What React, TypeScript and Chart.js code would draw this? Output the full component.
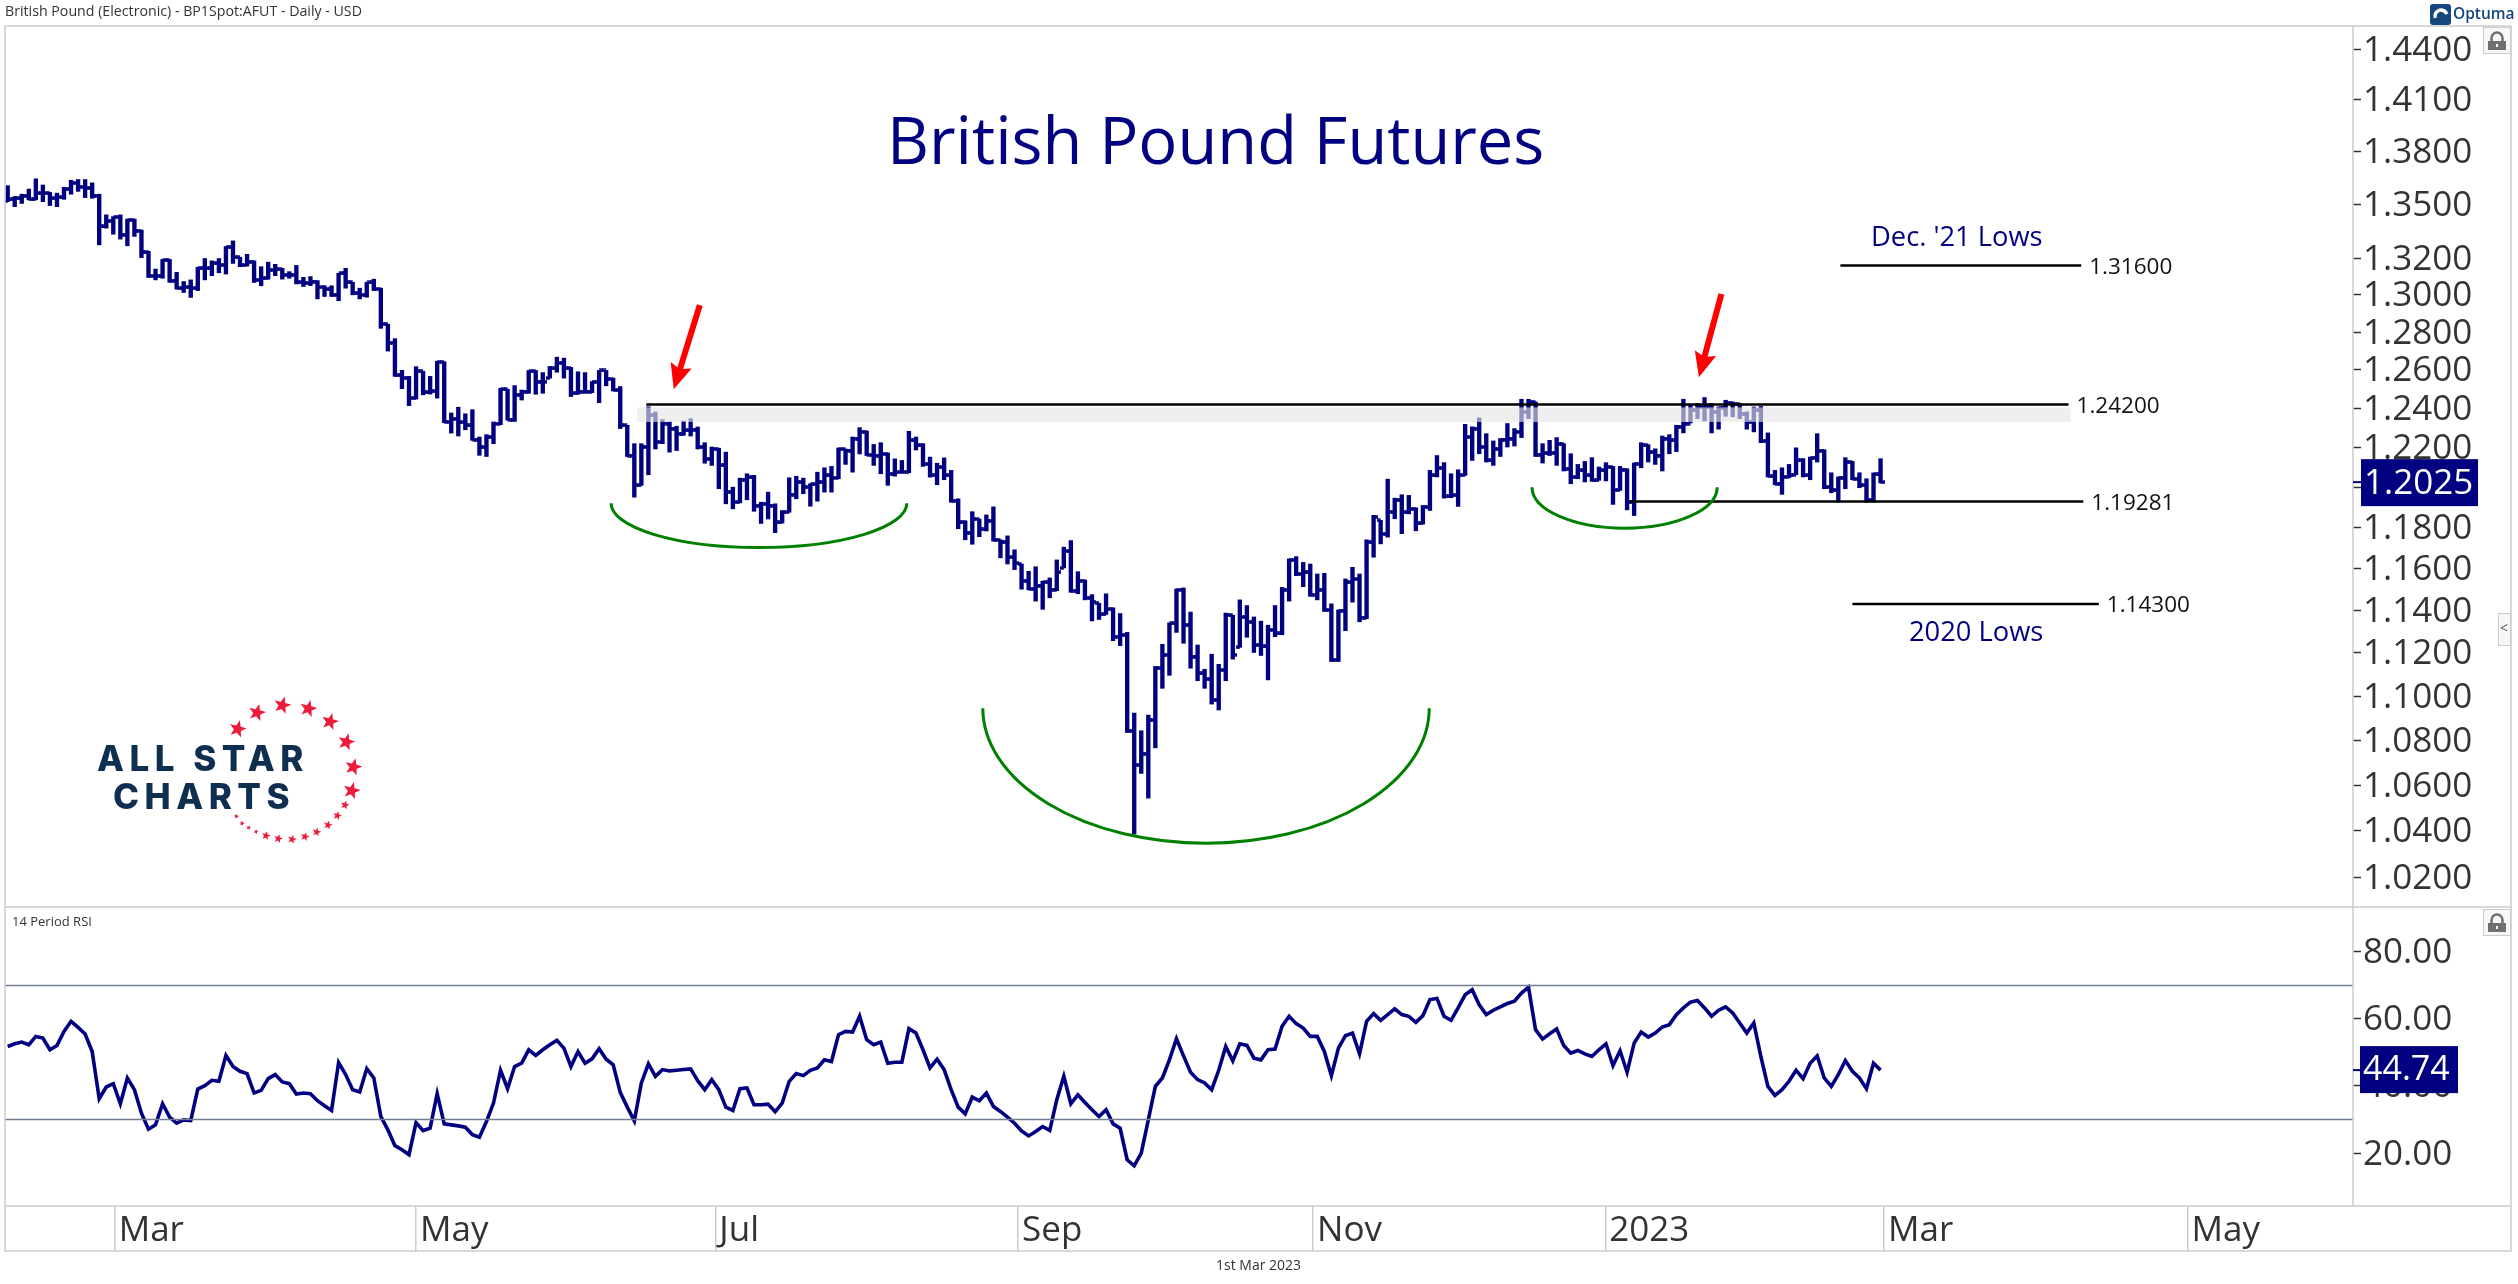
import React, { useEffect, useRef } from "react";
import Chart from "chart.js/auto";

// daily bars, oldest first
const highs = [
  1.3604,1.3543,1.3556,1.3585,1.3643,1.3608,1.3566,1.3562,1.3595,1.3635,
  1.3639,1.3639,1.362,1.3556,1.344,1.343,1.344,1.3416,1.3416,1.3355,
  1.3238,1.314,1.3193,1.3193,1.3122,1.3072,1.3081,1.315,1.3198,1.3185,
  1.3198,1.3264,1.3295,1.3205,1.3221,1.3185,1.3153,1.3178,1.3166,1.3144,
  1.3126,1.316,1.3095,1.3099,1.3077,1.3049,1.3049,1.3117,1.3144,1.3068,
  1.3036,1.3068,1.3085,1.3036,1.2842,1.2765,1.2598,1.2566,1.2617,1.2593,
  1.2566,1.2646,1.2643,1.2376,1.2406,1.2372,1.2393,1.2253,1.2265,1.233,
  1.2504,1.2499,1.2518,1.2495,1.2597,1.2597,1.2586,1.2618,1.2667,1.2662,
  1.2613,1.259,1.2586,1.2539,1.2597,1.2597,1.2557,1.2513,1.2313,1.2219,
  1.2219,1.2408,1.2381,1.2342,1.233,1.2308,1.2335,1.2347,1.2304,1.2224,
  1.2202,1.2196,1.2176,1.2,1.2045,1.2067,1.2059,1.1925,1.1975,1.1917,
  1.1883,1.2047,1.2054,1.2045,1.2017,1.2075,1.2097,1.2104,1.2197,1.2192,
  1.2253,1.2301,1.2284,1.2215,1.2224,1.2172,1.2142,1.2134,1.2282,1.2253,
  1.2219,1.2151,1.212,1.2147,1.2084,1.1942,1.1833,1.1878,1.1842,1.1862,
  1.1902,1.174,1.1759,1.1691,1.1622,1.1587,1.1609,1.1539,1.1555,1.1642,
  1.1704,1.1736,1.1585,1.1545,1.1475,1.1434,1.1479,1.1412,1.1385,1.1296,
  1.0923,1.0843,1.0914,1.1137,1.124,1.1341,1.1502,1.1507,1.1392,1.1237,
  1.1124,1.1194,1.1147,1.1387,1.1377,1.145,1.1423,1.1369,1.1349,1.133,
  1.1423,1.151,1.1647,1.1658,1.163,1.1622,1.1574,1.1577,1.1431,1.1402,
  1.155,1.1606,1.1574,1.174,1.186,1.1835,1.204,1.1945,1.1962,1.1959,
  1.1897,1.1909,1.2084,1.2159,1.2123,1.2067,1.2087,1.2318,1.2305,1.2351,
  1.227,1.2233,1.2245,1.2322,1.2296,1.2447,1.2447,1.2433,1.2219,1.2236,
  1.225,1.2219,1.2168,1.2114,1.2129,1.2148,1.2101,1.2123,1.2104,1.2104,
  1.2092,1.2121,1.2224,1.2214,1.2193,1.2258,1.2265,1.2313,1.2447,1.2416,
  1.2425,1.2456,1.2425,1.2407,1.2442,1.2433,1.2425,1.2382,1.2407,1.241,
  1.2274,1.2084,1.2097,1.2114,1.2198,1.2143,1.2151,1.227,1.2188,1.2072,
  1.2051,1.2148,1.2129,1.2072,1.2042,1.2071,1.2143,
];

const lows = [
  1.3514,1.3486,1.3504,1.3524,1.3524,1.3514,1.3492,1.3486,1.3527,1.3556,
  1.3572,1.3537,1.3533,1.3273,1.3366,1.3332,1.3305,1.3268,1.332,1.3203,
  1.3094,1.3081,1.309,1.3068,1.3031,1.3013,1.2986,1.3023,1.3081,1.3104,
  1.312,1.3113,1.3171,1.3153,1.3157,1.3067,1.3049,1.3085,1.3104,1.3085,
  1.309,1.3059,1.3045,1.305,1.2978,1.2991,1.2991,1.2968,1.3036,1.3,
  1.2978,1.2987,1.3023,1.282,1.2699,1.2566,1.2502,1.2414,1.2448,1.247,
  1.2474,1.2453,1.2326,1.2273,1.2258,1.229,1.2236,1.216,1.2154,1.2219,
  1.2316,1.2339,1.2333,1.2443,1.2478,1.2473,1.2478,1.2557,1.2588,1.2557,
  1.2461,1.2473,1.2481,1.2481,1.2429,1.2517,1.249,1.2296,1.2154,1.195,
  1.2009,1.2062,1.2192,1.2219,1.2176,1.2184,1.2262,1.2258,1.2192,1.212,
  1.2109,1.1992,1.1917,1.1892,1.1922,1.1937,1.188,1.182,1.1842,1.1775,
  1.1822,1.1875,1.1942,1.1967,1.1905,1.193,1.1975,1.1975,1.2042,1.2114,
  1.2075,1.2167,1.2159,1.2109,1.2067,1.2009,1.2055,1.2072,1.2072,1.2187,
  1.2104,1.205,1.2012,1.2037,1.1925,1.1794,1.174,1.1718,1.1755,1.1783,
  1.1733,1.1652,1.1622,1.1595,1.1501,1.1498,1.1444,1.1405,1.146,1.1494,
  1.1603,1.1486,1.1479,1.145,1.135,1.1357,1.1381,1.1257,1.1234,1.0835,
  1.0386,1.0652,1.0543,1.0766,1.1036,1.1096,1.1296,1.1245,1.1129,1.1071,
  1.1036,1.0964,1.0937,1.1071,1.1171,1.1226,1.1273,1.1202,1.1188,1.1075,
  1.1276,1.1285,1.1444,1.1566,1.1513,1.1467,1.145,1.1395,1.116,1.116,
  1.1304,1.1439,1.1346,1.1361,1.1655,1.172,1.1753,1.1843,1.177,1.1867,
  1.1784,1.1817,1.1884,1.2051,1.1945,1.1947,1.1904,1.2059,1.2134,1.2168,
  1.2126,1.2109,1.2154,1.2202,1.2207,1.225,1.2347,1.2154,1.2121,1.2159,
  1.2109,1.2081,1.2017,1.2042,1.2026,1.2029,1.2034,1.2031,1.1914,1.1984,
  1.1887,1.1859,1.2097,1.2126,1.2114,1.2081,1.2168,1.2179,1.2274,1.2325,
  1.2347,1.2335,1.2274,1.2293,1.2359,1.2356,1.2347,1.2293,1.2279,1.2224,
  1.2051,1.2012,1.1964,1.2047,1.2062,1.2051,1.2037,1.2126,1.1992,1.1972,
  1.1925,1.1992,1.2037,1.1997,1.1925,1.1925,1.2021,
];

const closes = [
  1.3527,1.3533,1.3547,1.3527,1.3562,1.3562,1.3533,1.3539,1.3585,1.362,
  1.3597,1.3591,1.3547,1.3375,1.3406,1.3427,1.3329,1.3412,1.3351,1.3233,
  1.3103,1.3103,1.3189,1.3077,1.3036,1.3041,1.3036,1.3144,1.3144,1.3171,
  1.3162,1.326,1.3205,1.3162,1.318,1.3081,1.309,1.3135,1.3139,1.3108,
  1.3108,1.3067,1.3063,1.3072,1.3041,1.3031,1.3,1.3117,1.3068,1.3009,
  1.3,1.3067,1.3031,1.2842,1.2743,1.2572,1.2558,1.2453,1.2593,1.2483,
  1.2488,1.2641,1.233,1.2347,1.233,1.2312,1.2239,1.2201,1.2253,1.2321,
  1.2499,1.2342,1.2469,1.2487,1.2592,1.2539,1.2539,1.2609,1.2636,1.2609,
  1.2478,1.2487,1.2487,1.2539,1.2597,1.2552,1.2495,1.2313,1.2159,1.2009,
  1.2202,1.2364,1.2227,1.2322,1.2296,1.227,1.2287,1.2291,1.2202,1.2142,
  1.2192,1.2109,1.1975,1.1925,1.2037,1.205,1.1908,1.1917,1.1908,1.1825,
  1.1875,1.1963,1.2025,1.2,1.2014,1.2025,1.2059,1.2047,1.2192,1.2184,
  1.2245,1.2279,1.2162,1.2159,1.2167,1.2067,1.2075,1.2075,1.2236,1.221,
  1.2117,1.2059,1.21,1.2059,1.1933,1.1825,1.1775,1.1842,1.1791,1.1833,
  1.174,1.1728,1.1655,1.1625,1.1542,1.1502,1.1518,1.1534,1.1499,1.1582,
  1.1684,1.1494,1.1542,1.146,1.1439,1.1381,1.1407,1.1276,1.1284,1.0843,
  1.0689,1.074,1.0891,1.1129,1.1191,1.1338,1.1498,1.133,1.1183,1.1105,
  1.1078,1.0983,1.1121,1.1377,1.1191,1.1369,1.1346,1.1237,1.123,1.1307,
  1.1291,1.1498,1.1642,1.1574,1.1582,1.1474,1.1499,1.1402,1.1167,1.1399,
  1.1534,1.155,1.1366,1.1728,1.1852,1.1769,1.1877,1.1935,1.1875,1.1892,
  1.182,1.19,1.2059,1.2097,1.1954,1.1959,1.2059,1.2253,1.2296,1.2202,
  1.2134,1.2193,1.224,1.2245,1.2279,1.2382,1.2433,1.2164,1.2171,1.2171,
  1.2219,1.2092,1.2051,1.2084,1.2059,1.2034,1.2084,1.2101,1.1987,1.2087,
  1.1925,1.2118,1.2211,1.2176,1.2159,1.2245,1.2236,1.2305,1.2322,1.239,
  1.2407,1.2407,1.2382,1.2404,1.2428,1.2421,1.2373,1.233,1.239,1.2233,
  1.2054,1.2017,1.2051,1.2059,1.2134,1.2059,1.2148,1.2184,1.2001,1.1984,
  1.2047,1.2126,1.2042,1.2009,1.1937,1.2064,1.2025,
];

const opens = [
  1.352,1.3527,1.3533,1.3547,1.3527,1.3562,1.3562,1.3533,1.3539,1.3585,
  1.362,1.3597,1.3591,1.3547,1.3375,1.3406,1.3427,1.3329,1.3412,1.3351,
  1.3233,1.3103,1.3103,1.3189,1.3077,1.3036,1.3041,1.3036,1.3144,1.3144,
  1.3171,1.3162,1.326,1.3205,1.3162,1.318,1.3081,1.309,1.3135,1.3139,
  1.3108,1.3108,1.3067,1.3063,1.3072,1.3041,1.3031,1.3,1.3117,1.3068,
  1.3009,1.3,1.3067,1.3031,1.2842,1.2743,1.2572,1.2558,1.2453,1.2593,
  1.2483,1.2488,1.2641,1.233,1.2347,1.233,1.2312,1.2239,1.2201,1.2253,
  1.2321,1.2499,1.2342,1.2469,1.2487,1.2592,1.2539,1.2557,1.2609,1.2636,
  1.2609,1.2478,1.2487,1.2487,1.2539,1.2597,1.2552,1.2495,1.2313,1.2159,
  1.2009,1.2202,1.2364,1.2227,1.2322,1.2296,1.227,1.2287,1.2291,1.2202,
  1.2142,1.2192,1.2109,1.1975,1.1925,1.2037,1.205,1.1908,1.1917,1.1908,
  1.1825,1.1875,1.1963,1.2025,1.2,1.2014,1.2025,1.2059,1.2047,1.2192,
  1.2184,1.2245,1.2279,1.2162,1.2159,1.2167,1.2067,1.2075,1.2075,1.2236,
  1.221,1.2117,1.2059,1.21,1.2059,1.1933,1.1825,1.1775,1.1842,1.1791,
  1.1833,1.174,1.1728,1.1655,1.1622,1.1542,1.1502,1.1518,1.1534,1.1499,
  1.1603,1.1684,1.1494,1.1542,1.146,1.1434,1.1381,1.1407,1.1276,1.1284,
  1.0843,1.0689,1.074,1.0891,1.1129,1.1191,1.1338,1.1498,1.133,1.1183,
  1.1105,1.1078,1.0983,1.1121,1.1377,1.1226,1.1369,1.1346,1.1237,1.123,
  1.1307,1.1291,1.1498,1.1642,1.1574,1.1582,1.1474,1.1499,1.1402,1.1167,
  1.1399,1.1534,1.155,1.1366,1.1728,1.1835,1.1769,1.1877,1.1935,1.1875,
  1.1892,1.182,1.19,1.2059,1.2097,1.1954,1.1959,1.2059,1.2253,1.2296,
  1.2202,1.2134,1.2193,1.224,1.2245,1.2279,1.2382,1.2433,1.2164,1.2171,
  1.2171,1.2219,1.2092,1.2051,1.2084,1.2059,1.2034,1.2084,1.2101,1.1987,
  1.2087,1.1925,1.2118,1.2211,1.2176,1.2159,1.2245,1.2236,1.2305,1.2322,
  1.239,1.2407,1.2407,1.2382,1.2404,1.2428,1.2421,1.2373,1.233,1.239,
  1.2233,1.2054,1.2017,1.2051,1.2062,1.2134,1.2059,1.2148,1.2184,1.2001,
  1.1984,1.2047,1.2126,1.2042,1.2009,1.1937,1.2064,
];

const rsi = [
  51.8,52.6,53.1,52.3,54.8,54.3,50.8,52.1,56.3,59.3,
  57.5,55.5,50.3,36.2,39.7,40.7,34.7,42.4,38.9,31.9,
  27.1,28.4,34.7,30.7,28.9,29.9,29.7,39.1,40.1,41.7,
  41.4,49.1,45.8,44.4,43.7,37.9,38.7,42.2,43.4,41.2,
  40.7,37.6,37.9,37.7,35.6,34.1,32.7,47.0,43.4,38.9,
  38.2,45.2,42.4,30.9,26.9,22.2,21.0,19.5,29.1,26.7,
  27.4,37.7,28.7,28.4,28.1,27.7,25.5,24.7,29.4,34.9,
  44.7,39.2,45.8,46.8,50.8,49.1,50.8,52.3,53.6,51.3,
  45.8,50.3,46.8,48.1,51.1,48.0,46.3,38.1,33.7,29.6,
  40.9,46.6,42.9,44.9,44.5,44.7,44.9,45.1,41.6,38.9,
  41.9,38.9,33.7,32.7,39.2,39.4,34.4,34.4,34.6,32.3,
  34.9,41.4,43.7,43.1,44.7,45.4,47.8,47.3,55.3,56.3,
  56.1,60.8,53.8,52.3,53.1,46.8,47.1,47.1,57.1,55.8,
  50.8,45.4,48.0,44.9,38.9,33.7,31.7,36.7,35.6,37.9,
  33.9,32.4,30.7,28.9,26.6,25.1,26.4,27.9,26.7,35.9,
  42.9,34.7,37.4,35.1,32.9,30.9,32.9,28.7,27.4,18.0,
  16.2,20.0,29.9,39.9,42.4,47.8,54.1,49.0,44.1,41.9,
  40.9,38.9,44.7,51.8,47.5,52.6,52.1,48.3,47.8,50.8,
  51.0,57.8,60.8,58.6,57.3,54.8,54.8,50.3,43.1,51.3,
  55.0,55.8,49.6,59.3,61.6,59.6,61.3,63.0,61.3,60.8,
  59.0,61.0,65.8,66.1,60.8,59.6,63.3,67.2,68.7,64.2,
  61.3,62.6,63.6,64.6,65.3,67.7,69.5,56.8,54.0,55.6,
  57.0,52.1,49.8,50.6,49.6,48.8,50.8,52.6,46.1,50.5,
  44.1,52.8,56.1,54.6,55.8,57.6,58.3,61.3,63.3,65.0,
  65.5,63.3,60.8,62.6,63.6,61.8,58.8,55.8,58.8,48.8,
  39.9,37.2,38.9,41.4,44.7,42.2,46.8,49.0,42.4,39.9,
  43.4,47.6,44.4,42.4,39.2,46.8,44.74,
];

// axis ticks
const priceTicks = [
  1.44,1.41,1.38,1.35,1.32,1.3,1.28,1.26,1.24,1.22,1.2,1.18,1.16,1.14,1.12,1.1,1.08,1.06,1.04,1.02,
];
const rsiTicks = [80, 60, 40, 20];
const monthLabels = ["Mar", "May", "Jul", "Sep", "Nov", "2023", "Mar", "May"];
const monthTickBars = [15.2, 58.0, 100.5, 143.5, 185.4, 226.9, 266.5, 309.6];

// horizontal levels drawn on the price panel: price, first bar, last bar
const levels = [
  { price: 1.316, from: 260.3, to: 294.5, label: "1.31600" },
  { price: 1.242, from: 90.7, to: 292.7, label: "1.24200" },
  { price: 1.19281, from: 230.3, to: 294.8, label: "1.19281" },
  { price: 1.143, from: 262, to: 297, label: "1.14300" },
];
const rsiLevels = [70, 30];

// saucer curves: rim bars, rim price, bottom price
const saucers = [
  { from: 85.7, to: 127.7, rim: 1.192, bottom: 1.1702 },
  { from: 138.5, to: 201.9, rim: 1.0945, bottom: 1.0347 },
  { from: 216.5, to: 242.8, rim: 1.2, bottom: 1.1797 },
];
const arrows = [
  { fromBar: 98.3, fromPrice: 1.2944, toBar: 94.6, toPrice: 1.2499 },
  { fromBar: 243.4, fromPrice: 1.3004, toBar: 240.2, toPrice: 1.2562 },
];

const NAVY = "#000080";
const FONT = '"Open Sans"';

const logoStars = [
  [563, 177, 27], [621, 128, 27], [697, 106, 27], [775, 116, 27], [840, 155, 27], [889, 216, 27],
  [910, 291, 27], [905, 362, 27], [885, 405, 14], [862, 437, 14], [834, 465, 14], [800, 486, 14],
  [765, 500, 14], [726, 508, 14], [685, 506, 14], [648, 497, 14], [618, 485, 8], [596, 473, 8],
  [576, 460, 8], [559, 439, 8],
];

function star(ctx: CanvasRenderingContext2D, x: number, y: number, r: number) {
  ctx.beginPath();
  for (let k = 0; k < 10; k++) {
    const a = -Math.PI / 2 + 0.25 + (k * Math.PI) / 5;
    const d = k % 2 ? r * 0.42 : r;
    ctx.lineTo(x + Math.cos(a) * d, y + Math.sin(a) * d);
  }
  ctx.closePath();
  ctx.fill();
}

function text(ctx: CanvasRenderingContext2D, s: string, x: number, y: number, font: string, color: string) {
  ctx.font = font;
  ctx.fillStyle = color;
  ctx.textAlign = "left";
  ctx.textBaseline = "middle";
  ctx.fillText(s, x, y);
}

function lockIcon(ctx: CanvasRenderingContext2D, x: number, y: number) {
  ctx.fillStyle = "#f7f7f7";
  ctx.strokeStyle = "#cccccc";
  ctx.lineWidth = 1;
  ctx.fillRect(x, y, 28, 27);
  ctx.strokeRect(x + 0.5, y + 0.5, 27, 26);
  ctx.strokeStyle = "#707070";
  ctx.lineWidth = 2.5;
  ctx.beginPath();
  ctx.arc(x + 14, y + 11, 5.5, Math.PI, 0);
  ctx.lineTo(x + 19.5, y + 15);
  ctx.moveTo(x + 8.5, y + 11);
  ctx.lineTo(x + 8.5, y + 15);
  ctx.stroke();
  ctx.fillStyle = "#707070";
  ctx.fillRect(x + 5, y + 14, 18, 9);
  ctx.fillStyle = "#f7f7f7";
  ctx.fillRect(x + 13, y + 17, 2, 3);
}

const overlays = {
  id: "overlays",
  // this one sits above the bars, the grey zone washes them out
  afterDatasetsDraw(chart: any) {
    const { ctx } = chart;
    const x = chart.scales.x;
    const y = chart.scales.y;
    ctx.save();
    ctx.fillStyle = "rgba(230,230,230,0.63)";
    const bandTop = y.getPixelForValue(1.2405);
    ctx.fillRect(x.getPixelForValue(89.4), bandTop, x.getPixelForValue(293) - x.getPixelForValue(89.4), y.getPixelForValue(1.233) - bandTop);

    ctx.strokeStyle = "#008000";
    ctx.lineWidth = 3;
    saucers.forEach((s) => {
      const x0 = x.getPixelForValue(s.from);
      const x1 = x.getPixelForValue(s.to);
      const rim = y.getPixelForValue(s.rim);
      ctx.beginPath();
      ctx.ellipse((x0 + x1) / 2, rim, (x1 - x0) / 2, y.getPixelForValue(s.bottom) - rim, 0, 0, Math.PI);
      ctx.stroke();
    });

    ctx.fillStyle = "#ff0000";
    arrows.forEach((a) => {
      const x0 = x.getPixelForValue(a.fromBar);
      const y0 = y.getPixelForValue(a.fromPrice);
      const x1 = x.getPixelForValue(a.toBar);
      const y1 = y.getPixelForValue(a.toPrice);
      const len = Math.hypot(x1 - x0, y1 - y0);
      const ux = (x1 - x0) / len;
      const uy = (y1 - y0) / len;
      const bx = x1 - ux * 22;
      const by = y1 - uy * 22;
      ctx.beginPath();
      ctx.moveTo(x0 - uy * 3, y0 + ux * 3);
      ctx.lineTo(bx - uy * 3, by + ux * 3);
      ctx.lineTo(bx - uy * 11 - ux * 3, by + ux * 11 - uy * 3);
      ctx.lineTo(x1, y1);
      ctx.lineTo(bx + uy * 11 - ux * 3, by - ux * 11 - uy * 3);
      ctx.lineTo(bx + uy * 3, by - ux * 3);
      ctx.lineTo(x0 + uy * 3, y0 - ux * 3);
      ctx.closePath();
      ctx.fill();
    });
    ctx.restore();
  },
  afterDraw(chart: any) {
    const { ctx, chartArea } = chart;
    const x = chart.scales.x;
    const y = chart.scales.y;
    const r = chart.scales.rsi;
    ctx.save();

    // panel frame
    ctx.strokeStyle = "#cccccc";
    ctx.lineWidth = 1.5;
    const right = 2511;
    const bottom = 1251;
    ctx.strokeRect(chartArea.left, chartArea.top, right - chartArea.left, bottom - chartArea.top);
    ctx.beginPath();
    ctx.moveTo(chartArea.left, y.bottom);
    ctx.lineTo(right, y.bottom);
    ctx.moveTo(chartArea.left, r.bottom);
    ctx.lineTo(right, r.bottom);
    ctx.moveTo(chartArea.right, chartArea.top);
    ctx.lineTo(chartArea.right, r.bottom);
    ctx.stroke();

    // texts
    text(ctx, "British Pound (Electronic) - BP1Spot:AFUT - Daily - USD", 5, 12, `14.2px ${FONT}`, "#333333");
    text(ctx, "British Pound Futures", 887, 145, `65px ${FONT}`, NAVY);
    text(ctx, "Dec. '21 Lows", 1871, 238, `27.3px ${FONT}`, NAVY);
    text(ctx, "2020 Lows", 1909, 633, `27.3px ${FONT}`, NAVY);
    text(ctx, "14 Period RSI", 12, 922, `13px ${FONT}`, "#333333");
    text(ctx, "1st Mar 2023", 1216, 1266, `14px ${FONT}`, "#333333");
    levels.forEach((l) => {
      text(ctx, l.label, x.getPixelForValue(l.to) + 8, y.getPixelForValue(l.price) + 2, `22.5px ${FONT}`, "#111111");
    });

    // last value boxes
    const lastPrice = closes[closes.length - 1];
    const py = y.getPixelForValue(lastPrice);
    ctx.fillStyle = NAVY;
    ctx.fillRect(2353, py - 1, 8, 2);
    ctx.fillRect(2361, py - 23, 117, 47);
    text(ctx, lastPrice.toFixed(4), 2364, py + 1.5, `35px ${FONT}`, "#ffffff");
    const lastRsi = rsi[rsi.length - 1];
    const ry = r.getPixelForValue(lastRsi);
    ctx.fillStyle = NAVY;
    ctx.fillRect(2353, ry - 1, 8, 2);
    ctx.fillRect(2360, ry - 24, 98, 47);
    text(ctx, lastRsi.toFixed(2), 2363, ry + 0.5, `34px ${FONT}`, "#ffffff");

    // lock buttons and the collapse tab
    lockIcon(ctx, 2483, 27);
    lockIcon(ctx, 2483, 909);
    ctx.fillStyle = "#f7f7f7";
    ctx.strokeStyle = "#cccccc";
    ctx.lineWidth = 1;
    ctx.fillRect(2498, 613, 12, 32);
    ctx.strokeRect(2498.5, 613.5, 12, 32);
    text(ctx, "<", 2500, 629, `14px ${FONT}`, "#555555");

    // Optuma mark
    ctx.fillStyle = "#14477e";
    ctx.beginPath();
    ctx.roundRect(2430, 4, 21, 21, 3);
    ctx.fill();
    ctx.strokeStyle = "#ffffff";
    ctx.lineWidth = 3.5;
    ctx.beginPath();
    ctx.arc(2441, 16, 6, Math.PI * 0.9, Math.PI * 1.9);
    ctx.stroke();
    text(ctx, "Optuma", 2453, 15, `600 15.5px ${FONT}`, "#14477e");

    // All Star Charts logo
    ctx.letterSpacing = "5.5px";
    text(ctx, "ALL STAR", 97, 760, "800 35px Inter", "#0f2f50");
    text(ctx, "CHARTS", 113, 798, "800 35px Inter", "#0f2f50");
    ctx.letterSpacing = "0px";
    ctx.fillStyle = "#ed1c3c";
    logoStars.forEach(([sx, sy, sr]) => star(ctx, 50 + sx / 3, 670 + sy / 3, sr / 3));
    ctx.restore();
  },
};

// OHLC side tick: half of a small canvas, the point is centred on the bar
function makeTick(side: "left" | "right") {
  const c = document.createElement("canvas");
  c.width = 8;
  c.height = 4;
  const g = c.getContext("2d");
  if (g) {
    g.fillStyle = NAVY;
    g.fillRect(side === "left" ? 0 : 4, 0.3, 4, 3.4);
  }
  return c;
}

const App: React.FC = () => {
  const canvasRef = useRef<HTMLCanvasElement | null>(null);

  useEffect(() => {
    if (!canvasRef.current) return;

    const axisFont = { family: FONT, size: 35 };
    const chart = new Chart(canvasRef.current, {
      type: "line",
      data: {
        datasets: [
          ...levels.map((l) => ({
            type: "line",
            data: [{ x: l.from, y: l.price }, { x: l.to, y: l.price }],
            borderColor: "#000000",
            borderWidth: 2.5,
            pointRadius: 0,
            yAxisID: "y",
          })),
          ...rsiLevels.map((v) => ({
            type: "line",
            data: [{ x: -1, y: v }, { x: 340, y: v }],
            borderColor: "#708090",
            borderWidth: 1.5,
            pointRadius: 0,
            yAxisID: "rsi",
          })),
          {
            type: "line",
            label: "Open",
            data: opens.map((v, i) => ({ x: i, y: v })),
            showLine: false,
            pointStyle: makeTick("left"),
            pointRadius: 4,
            yAxisID: "y",
          },
          {
            type: "line",
            label: "Close",
            data: closes.map((v, i) => ({ x: i, y: v })),
            showLine: false,
            pointStyle: makeTick("right"),
            pointRadius: 4,
            yAxisID: "y",
          },
          {
            type: "bar",
            label: "High-Low",
            data: highs.map((h, i) => ({ x: i, y: [lows[i], h] })),
            backgroundColor: NAVY,
            barThickness: 3.7,
            yAxisID: "y",
          },
          {
            type: "line",
            label: "14 Period RSI",
            data: rsi.map((v, i) => ({ x: i, y: v })),
            borderColor: NAVY,
            borderWidth: 3.6,
            pointRadius: 0,
            tension: 0,
            yAxisID: "rsi",
          },
        ] as any,
      },
      options: {
        animation: false,
        responsive: false,
        devicePixelRatio: 1,
        layout: { padding: { top: 26, left: 5, right: 7, bottom: 33 } },
        plugins: { legend: { display: false }, tooltip: { enabled: false } },
        scales: {
          x: {
            type: "linear",
            min: -0.38,
            max: 333.1,
            offset: false,
            border: { display: false },
            grid: { drawOnChartArea: false, offset: false, tickLength: 45, color: "#cccccc", lineWidth: 1.5 },
            afterBuildTicks: (s: any) => {
              s.ticks = monthTickBars.map((value) => ({ value }));
            },
            afterFit: (s: any) => {
              s.height = 45;
            },
            ticks: {
              autoSkip: false,
              maxRotation: 0,
              align: "start",
              padding: -40.5,
              labelOffset: 4,
              color: "#333333",
              font: axisFont,
              callback: (v: any) => monthLabels[monthTickBars.indexOf(v)],
            },
          },
          y: {
            type: "logarithmic",
            axis: "y",
            position: "right",
            stack: "panels",
            stackWeight: 881,
            min: 1.0076,
            max: 1.4539,
            border: { display: false },
            grid: { drawOnChartArea: false, tickLength: 8, tickColor: "#333333", tickWidth: 1.5 },
            afterBuildTicks: (s: any) => {
              s.ticks = priceTicks.map((value) => ({ value }));
            },
            afterFit: (s: any) => {
              s.width = 158;
            },
            ticks: {
              autoSkip: false,
              padding: 2,
              labelOffset: 1.5,
              color: "#333333",
              font: axisFont,
              callback: (v: any) => Number(v).toFixed(4),
            },
          },
          rsi: {
            type: "linear",
            axis: "y",
            position: "right",
            stack: "panels",
            stackWeight: 299,
            min: 4.2,
            max: 93.4,
            border: { display: false },
            grid: { drawOnChartArea: false, tickLength: 8, tickColor: "#333333", tickWidth: 1.5 },
            afterBuildTicks: (s: any) => {
              s.ticks = rsiTicks.map((value) => ({ value }));
            },
            afterFit: (s: any) => {
              s.width = 158;
            },
            ticks: {
              autoSkip: false,
              padding: 2,
              labelOffset: 1.5,
              color: "#333333",
              font: axisFont,
              callback: (v: any) => Number(v).toFixed(2),
            },
          },
        },
      } as any,
      plugins: [overlays],
    });

    return () => {
      chart.destroy();
    };
  }, []);

  return (
    <div style={{ position: "fixed", left: 0, top: 0, width: 2518, height: 1284, background: "#ffffff" }}>
      <canvas ref={canvasRef} width={2518} height={1284} style={{ display: "block" }} />
    </div>
  );
};

export default App;
